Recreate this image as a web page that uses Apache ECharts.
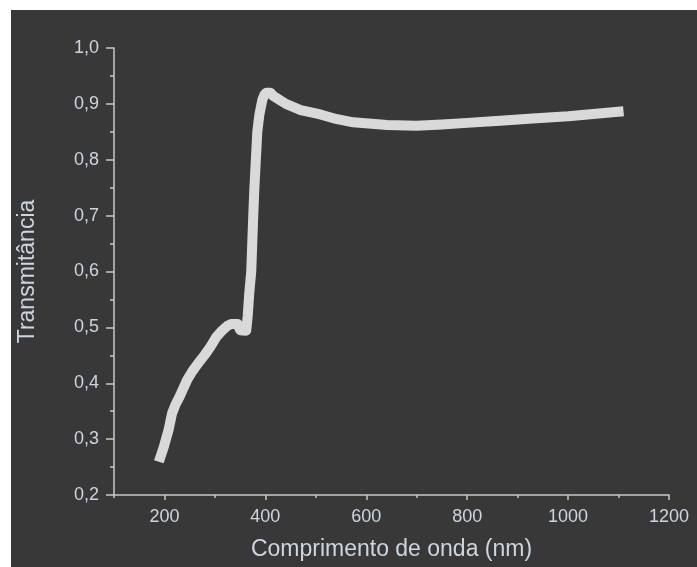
<!DOCTYPE html>
<html>
<head>
<meta charset="utf-8">
<script src="https://cdn.jsdelivr.net/npm/echarts@6/dist/echarts.min.js"></script>
<style>
html,body{margin:0;padding:0;background:#ffffff;}
#bg{position:absolute;left:11px;top:10px;width:686px;height:557px;background:#383838;}
#chart{position:absolute;left:0;top:0;width:697px;height:567px;}
</style>
</head>
<body>
<div id="bg"></div>
<div id="chart"></div>
<script>
// Wavelength (nm)
const wavelength = [192,199,208,215,222,230,245,255,267,280,291,303,315,325,332,345,350,362,365,368,372,374,376,378,380,384,388,394,398,402,410,416,430,443,470,509,540,574,641,700,750,800,865,930,1000,1050,1100];
// Transmittance
const transmittance = [0.268,0.287,0.316,0.346,0.362,0.376,0.406,0.421,0.436,0.451,0.465,0.483,0.495,0.503,0.506,0.506,0.495,0.494,0.52,0.56,0.60,0.65,0.70,0.745,0.78,0.85,0.88,0.907,0.916,0.920,0.920,0.914,0.906,0.899,0.889,0.881,0.873,0.867,0.862,0.861,0.863,0.866,0.870,0.874,0.878,0.882,0.886];
const xTicks = [200,400,600,800,1000,1200];
const yTicks = [0.2,0.3,0.4,0.5,0.6,0.7,0.8,0.9,1.0];

const labelColor = '#cdd5e0';
const axisColor = '#c8c8c8';
const font = 'Liberation Sans, Arial, sans-serif';

const chart = echarts.init(document.getElementById('chart'), null, {renderer:'canvas'});
chart.setOption({
  backgroundColor: 'transparent',
  animation: false,
  grid: {left:114, right:28, top:48, bottom:72, containLabel:false},
  xAxis: [{
    type:'value', min:100, max:1200,
    name:'Comprimento de onda (nm)', nameLocation:'middle', nameGap:43,
    nameTextStyle:{color:labelColor, fontSize:23, fontFamily:font},
    axisLine:{show:true, lineStyle:{color:axisColor, width:1.5}},
    axisTick:{show:true, length:5, customValues:xTicks, lineStyle:{color:axisColor, width:1.5}},
    axisLabel:{show:true, customValues:xTicks, margin:13, color:labelColor, fontSize:18, fontFamily:font,
      formatter: v => String(v)},
    splitLine:{show:false}
  },{
    type:'value', min:100, max:1200, interval:100, position:'bottom',
    axisLine:{show:false},
    axisTick:{show:true, length:3, lineStyle:{color:axisColor, width:1.5}},
    axisLabel:{show:false},
    splitLine:{show:false}
  }],
  yAxis: {
    type:'value', min:0.2, max:1.0, interval:0.1,
    name:'Transmitância', nameLocation:'middle', nameGap:75,
    nameTextStyle:{color:labelColor, fontSize:23, fontFamily:font},
    axisLine:{show:true, lineStyle:{color:axisColor, width:1.5}},
    axisTick:{show:true, length:8, lineStyle:{color:axisColor, width:1.5}},
    minorTick:{show:true, splitNumber:2, length:4, lineStyle:{color:axisColor, width:1.5}},
    axisLabel:{margin:15, color:labelColor, fontSize:18, fontFamily:font,
      formatter: v => v.toFixed(1).replace('.', ',')},
    splitLine:{show:false}
  },
  series: [{
    type:'line', xAxisIndex:0,
    data: wavelength.map((w,i)=>[w, transmittance[i]]),
    showSymbol:false, smooth:false,
    lineStyle:{color:'#d9d9d9', width:10, cap:'square', join:'round'}
  }]
});
</script>
</body>
</html>
